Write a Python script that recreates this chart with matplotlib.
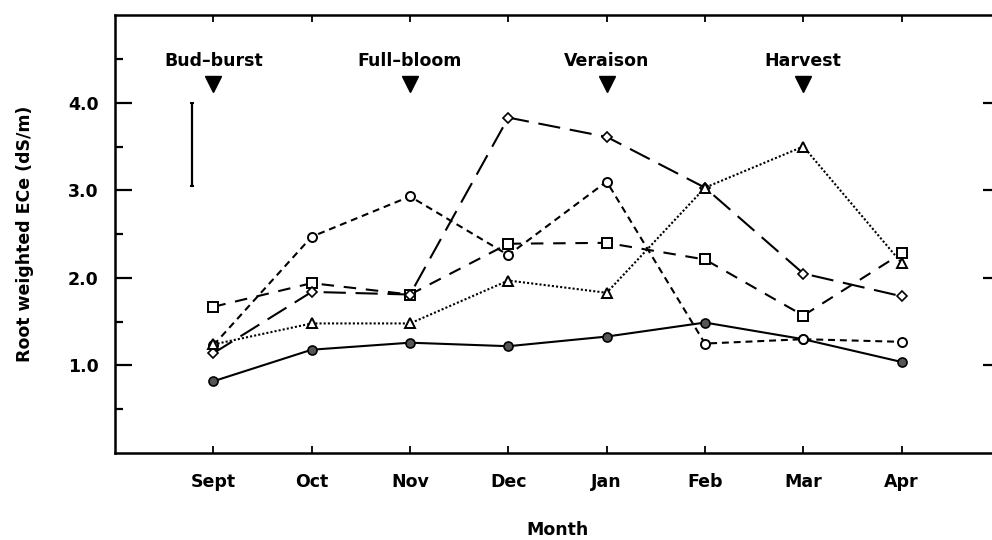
import numpy as np
import matplotlib.pyplot as plt
from matplotlib.ticker import FixedLocator

months = ["Sept", "Oct", "Nov", "Dec", "Jan", "Feb", "Mar", "Apr"]

# root weighted ECe (dS/m) for each treatment
ece_filled = [0.82, 1.18, 1.26, 1.22, 1.33, 1.49, 1.30, 1.04]
ece_circle = [1.23, 2.47, 2.93, 2.26, 3.10, 1.25, 1.30, 1.27]
ece_square = [1.67, 1.94, 1.81, 2.39, 2.40, 2.21, 1.57, 2.28]
ece_diamond = [1.14, 1.84, 1.81, 3.83, 3.61, 3.03, 2.05, 1.79]
ece_triangle = [1.24, 1.48, 1.48, 1.97, 1.83, 3.03, 3.50, 2.17]

# vine stages and the month they fall in
stages = ["Bud\u2013burst", "Full\u2013bloom", "Veraison", "Harvest"]
stage_month = [0, 2, 4, 6]

# LSD bar
lsd_low, lsd_high = 3.05, 4.0

plt.rcParams['font.family'] = ['DejaVu Sans']
plt.rcParams['lines.scale_dashes'] = False
fig = plt.figure(figsize=(9.92, 5.40), dpi=100)
ax = fig.add_axes([0.116, 0.161, 0.892, 0.811])

x = np.arange(len(months))
lw = 1.5
ax.plot(x, ece_filled, '-', color='black', lw=lw, marker='o', ms=6.5,
        mfc='#555555', mec='black', mew=1.2)
ax.plot(x, ece_circle, color='black', lw=lw, dashes=(5, 3.5), marker='o', ms=6.5,
        mfc='white', mec='black', mew=1.4)
ax.plot(x, ece_square, color='black', lw=lw, dashes=(9, 7), marker='s', ms=6.5,
        mfc='white', mec='black', mew=1.4)
ax.plot(x, ece_diamond, color='black', lw=lw, dashes=(16, 7), marker='D', ms=5,
        mfc='white', mec='black', mew=1.2)
ax.plot(x, ece_triangle, color='black', lw=lw, dashes=(1.5, 1.5), marker='^', ms=7,
        mfc='white', mec='black', mew=1.4)

# stage markers along the top
for name, m in zip(stages, stage_month):
    ax.plot(m, 4.21, marker='v', ms=11, color='black', ls='none')
    ax.text(m, 4.48, name, ha='center', va='center', fontsize=12.5, fontweight='bold')

ax.errorbar([-0.22], [(lsd_low + lsd_high) / 2], yerr=[(lsd_high - lsd_low) / 2],
            color='black', lw=1.6, capsize=1.5, capthick=1.5)

ax.set_xlim(-1, 8)
ax.set_ylim(0, 5)
ax.xaxis.set_major_locator(FixedLocator(x))
ax.set_xticklabels(months, fontsize=12.5, fontweight='bold')
ax.yaxis.set_major_locator(FixedLocator([1, 2, 3, 4]))
ax.yaxis.set_minor_locator(FixedLocator([0.5, 1.5, 2.5, 3.5, 4.5]))
ax.set_yticklabels(["1.0", "2.0", "3.0", "4.0"], fontsize=12.5, fontweight='bold')
ax.tick_params(axis='y', which='major', direction='in', length=12, width=1.6,
               right=True, pad=12)
ax.tick_params(axis='y', which='minor', direction='in', length=6, width=1.6, right=True)
ax.tick_params(axis='x', which='major', direction='in', length=5, width=1.3,
               top=True, pad=14)

for s in ax.spines.values():
    s.set_linewidth(1.8)

ax.set_xlabel("Month", fontsize=12.5, fontweight='bold', labelpad=22)
ax.set_ylabel("Root weighted ECe (dS/m)", fontsize=12.5, fontweight='bold', labelpad=24)

fig.savefig("out.png", dpi=100)
